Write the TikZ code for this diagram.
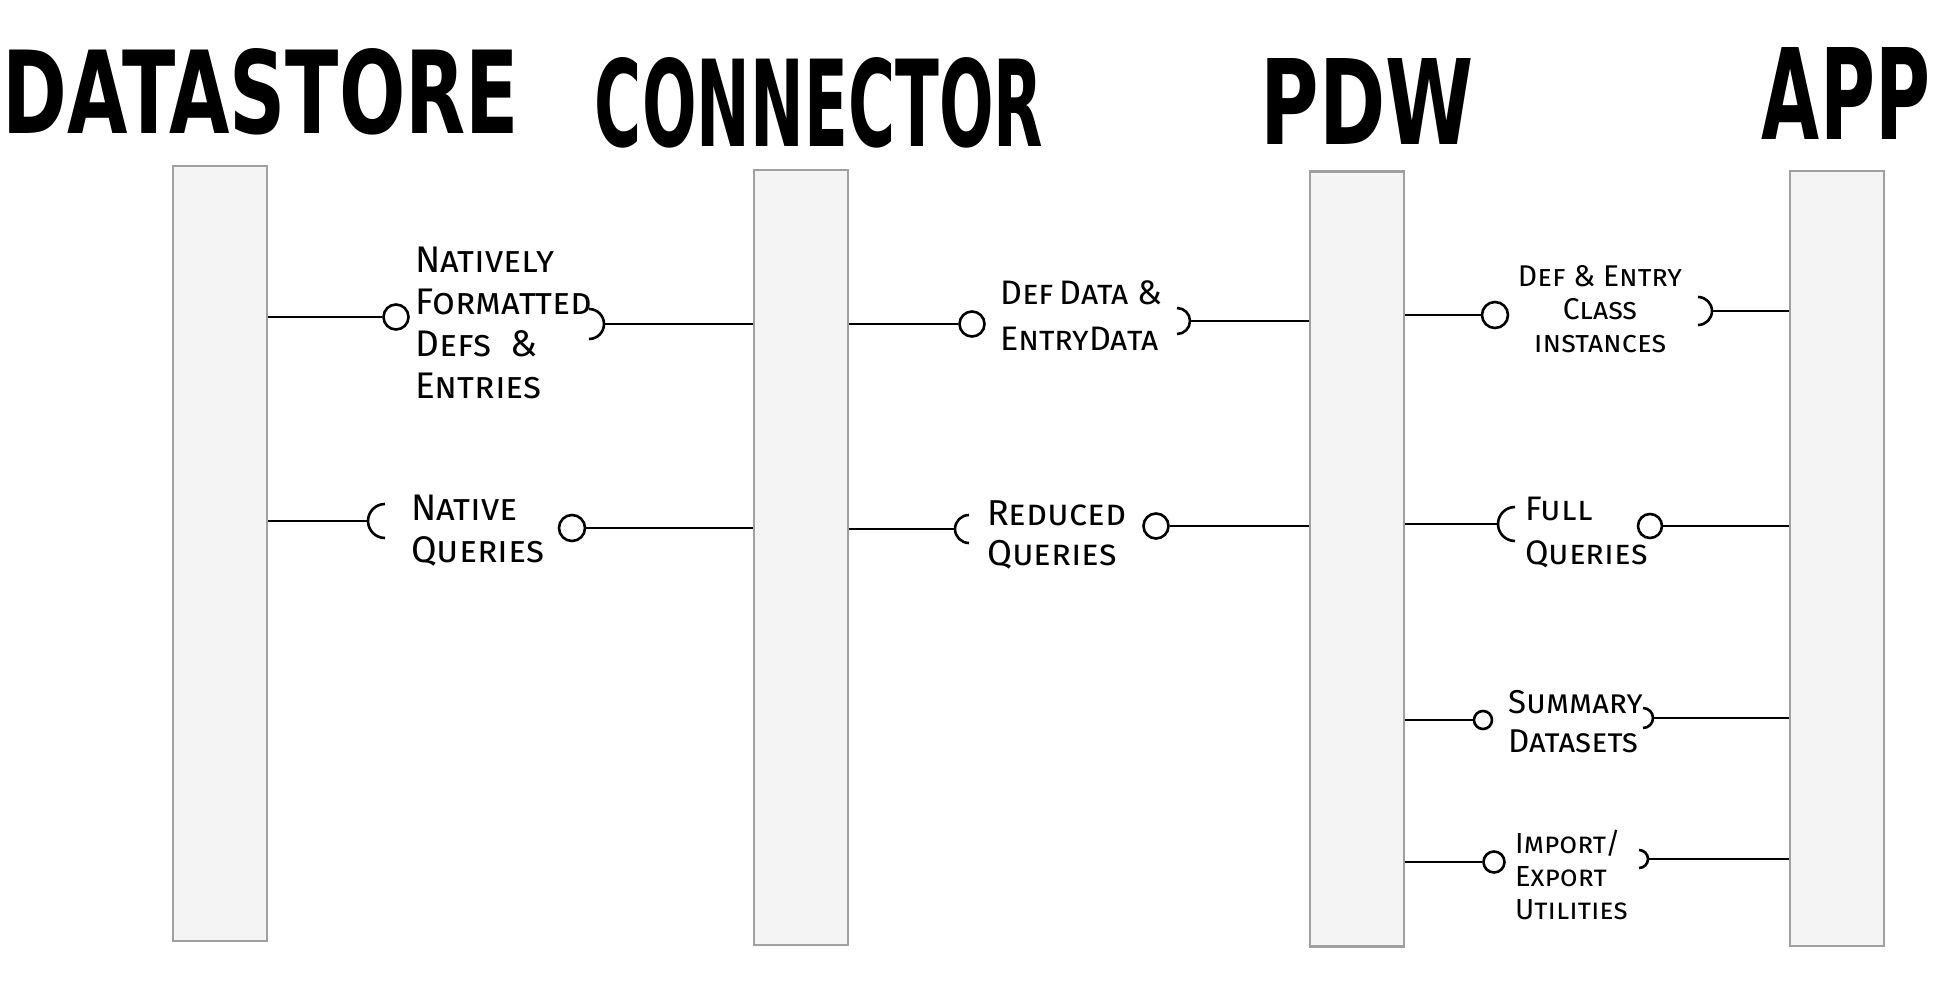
\documentclass[tikz,border=0pt]{standalone}
\usepackage{graphicx}
\usepackage{fontspec}
\setmainfont{DejaVu Sans}
\newfontfamily\handfont[Letters=SmallCaps]{Fira Sans}
\usetikzlibrary{positioning}
\definecolor{barfill}{HTML}{F4F4F4}
\definecolor{barline}{HTML}{A0A0A0}

\begin{document}
\begin{tikzpicture}[x=1pt, y=-1pt,
    bar/.style={draw=barline, fill=barfill, line width=2.5pt, minimum width=94pt, minimum height=775pt, inner sep=0pt},
    title/.style={inner sep=0pt, font=\bfseries},
    lbl/.style 2 args={inner sep=0pt, align=left, anchor=north west, font=\handfont\fontsize{#1}{#2}\selectfont},
    lbl/.default={36}{42},
    ball/.style={circle, draw, line width=2.6pt, inner sep=0pt, minimum size=#1},
    wire/.style={line width=2.6pt}]
    \useasboundingbox (0,0) rectangle (1957,1000);

    \node[title] (tds) at (261,92) {\resizebox{516pt}{85pt}{DATASTORE}};
    \node[title] (tcn) at (819,103) {\resizebox{448pt}{89pt}{CONNECTOR}};
    \node[title] (tpdw) at (1367,101) {\resizebox{213pt}{86pt}{PDW}};
    \node[title] (tapp) at (1846,93) {\resizebox{168pt}{92pt}{APP}};

    \node[bar] (ds) at (220,553.5) {};
    \node[bar] (cn) at (801,557.5) {};
    \node[bar] (pdw) at (1357,559) {};
    \node[bar] (app) at (1837,558.5) {};

    \node[ball=25pt] (b1) at (396,317) {};
    \node[ball=26pt] (b2) at (572,528) {};
    \node[ball=25pt] (b3) at (972,324) {};
    \node[ball=25pt] (b4) at (1156,526) {};
    \node[ball=26pt] (b5) at (1495,315) {};
    \node[ball=24pt] (b6) at (1650,526) {};
    \node[ball=18pt] (b7) at (1483,720) {};
    \node[ball=21pt] (b8) at (1494,862) {};

    \coordinate (k1) at (604,324);
    \coordinate (k2) at (368,521);
    \coordinate (k3) at (1190,321);
    \coordinate (k4) at (955,529);
    \coordinate (k5) at (1712,311);
    \coordinate (k6) at (1498,524);
    \coordinate (k7) at (1653,718);
    \coordinate (k8) at (1648,859);

    \draw[wire] ([shift={(-15pt,15pt)}]k1) arc[start angle=90, end angle=-90, radius=15pt];
    \draw[wire] ([shift={(17pt,17pt)}]k2) arc[start angle=90, end angle=270, radius=17pt];
    \draw[wire] ([shift={(-13pt,13pt)}]k3) arc[start angle=90, end angle=-90, radius=13pt];
    \draw[wire] ([shift={(14pt,14pt)}]k4) arc[start angle=90, end angle=270, radius=14pt];
    \draw[wire] ([shift={(-14pt,14pt)}]k5) arc[start angle=90, end angle=-90, radius=14pt];
    \draw[wire] ([shift={(17pt,17pt)}]k6) arc[start angle=90, end angle=270, radius=17pt];
    \draw[wire] ([shift={(-10pt,10pt)}]k7) arc[start angle=90, end angle=-90, radius=10pt];
    \draw[wire] ([shift={(-9pt,9pt)}]k8) arc[start angle=90, end angle=-90, radius=9pt];

    \draw[wire] (ds.east |- b1) -- (b1);
    \draw[wire] (k1) -- (cn.west |- k1);
    \draw[wire] (ds.east |- k2) -- (k2);
    \draw[wire] (b2) -- (cn.west |- b2);
    \draw[wire] (cn.east |- b3) -- (b3);
    \draw[wire] (k3) -- (pdw.west |- k3);
    \draw[wire] (cn.east |- k4) -- (k4);
    \draw[wire] (b4) -- (pdw.west |- b4);
    \draw[wire] (pdw.east |- b5) -- (b5);
    \draw[wire] (k5) -- (app.west |- k5);
    \draw[wire] (pdw.east |- k6) -- (k6);
    \draw[wire] (b6) -- (app.west |- b6);
    \draw[wire] (pdw.east |- b7) -- (b7);
    \draw[wire] (k7) -- (app.west |- k7);
    \draw[wire] (pdw.east |- b8) -- (b8);
    \draw[wire] (k8) -- (app.west |- k8);

    \node[lbl={37}{42}] (l1) at (415,247) {Natively\\Formatted\\Defs \ \&\\Entries};
    \node[lbl={37}{42}] (l2) at (411,495) {Native\\Queries};
    \node[lbl={34}{46}] (l3) at (1000,280) {Def\,Data \&\\EntryData};
    \node[lbl={36}{40}] (l4) at (987,500) {Reduced\\Queries};
    \node[lbl={30}{33}, align=center, anchor=north] (l5) at (1600,265) {Def \& Entry\\Class\\instances};
    \node[lbl={34}{44}] (l6) at (1525,497) {Full\\Queries};
    \node[lbl={33}{39}] (l7) at (1508,690) {Summary\\Datasets};
    \node[lbl={29}{33}] (l8) at (1515,830) {Import/\\Export\\Utilities};
\end{tikzpicture}
\end{document}
